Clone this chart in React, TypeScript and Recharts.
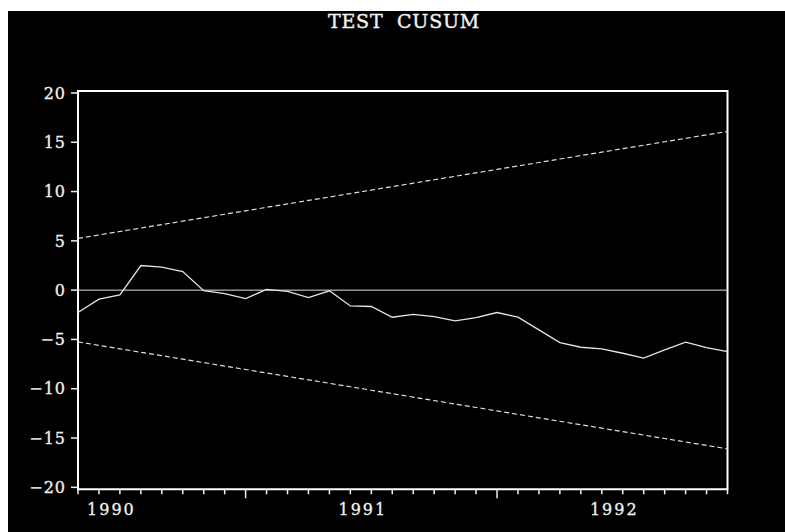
import {
  Line,
  LineChart,
  ReferenceArea,
  ReferenceLine,
  XAxis,
  YAxis,
} from "recharts"

// Monthly observations, May 1990 through December 1992
const months = [
  "1990:05", "1990:06", "1990:07", "1990:08", "1990:09", "1990:10", "1990:11", "1990:12",
  "1991:01", "1991:02", "1991:03", "1991:04", "1991:05", "1991:06", "1991:07", "1991:08",
  "1991:09", "1991:10", "1991:11", "1991:12",
  "1992:01", "1992:02", "1992:03", "1992:04", "1992:05", "1992:06", "1992:07", "1992:08",
  "1992:09", "1992:10", "1992:11", "1992:12",
]

const cusum = [
  -2.27, -0.91, -0.48, 2.5, 2.33, 1.89, -0.05, -0.35,
  -0.85, 0.08, -0.12, -0.75, -0.07, -1.6, -1.66, -2.75,
  -2.45, -2.68, -3.12, -2.78, -2.27, -2.74, -4.03, -5.32,
  -5.79, -5.96, -6.4, -6.9, -6.06, -5.28, -5.83, -6.23,
]

// 5% significance band
const upperBand = [
  5.25, 5.6, 5.95, 6.3, 6.65, 7.0, 7.35, 7.7,
  8.05, 8.4, 8.75, 9.1, 9.45, 9.8, 10.15, 10.5,
  10.85, 11.2, 11.55, 11.9, 12.25, 12.6, 12.95, 13.3,
  13.65, 14.0, 14.35, 14.7, 15.05, 15.4, 15.75, 16.1,
]
const lowerBand = [
  -5.25, -5.6, -5.95, -6.3, -6.65, -7.0, -7.35, -7.7,
  -8.05, -8.4, -8.75, -9.1, -9.45, -9.8, -10.15, -10.5,
  -10.85, -11.2, -11.55, -11.9, -12.25, -12.6, -12.95, -13.3,
  -13.65, -14.0, -14.35, -14.7, -15.05, -15.4, -15.75, -16.1,
]

const yTicks = [-20, -15, -10, -5, 0, 5, 10, 15, 20]

const data = months.map((m, i) => ({
  month: m,
  cusum: cusum[i],
  upper: upperBand[i],
  lower: lowerBand[i],
}))

const WIDTH = 777
const HEIGHT = 521
const MARGIN = { top: 80, right: 57.5, bottom: 12.7, left: 10 }
const Y_AXIS_W = 60
const PLOT_W = WIDTH - MARGIN.left - MARGIN.right - Y_AXIS_W
const STEP = PLOT_W / (months.length - 1)

const FONT = "'DejaVu Serif', serif"
const INK = "#f0f0f0"

type TickProps = {
  x?: number
  y?: number
  payload?: { value: string }
}

// one tick per month, a longer one at each January, year label centred in its year
const MonthTick = ({ x = 0, y = 0, payload }: TickProps) => {
  const [year, month] = (payload?.value ?? "").split(":")
  const isJan = month === "01"
  return (
    <g>
      <line
        x1={x}
        x2={x}
        y1={y}
        y2={y + (isJan ? 9 : 5)}
        stroke={INK}
        strokeWidth={1.5}
      />
      {month === "06" && (
        <text
          x={x + STEP / 2 + 2}
          y={y + 26}
          textAnchor="middle"
          fill={INK}
          stroke={INK}
          strokeWidth={0.3}
          fontFamily={FONT}
          fontSize={16}
          letterSpacing={2}
        >
          {year}
        </text>
      )}
    </g>
  )
}

const formatY = (v: number) => (v < 0 ? `\u2212${Math.abs(v)}` : `${v}`)

export default function App() {
  return (
    <div
      style={{
        position: "fixed",
        left: 8,
        top: 11,
        right: 0,
        bottom: 0,
        background: "#000",
      }}
    >
      <LineChart width={WIDTH} height={HEIGHT} data={data} margin={MARGIN}>
        <text
          x={396}
          y={17}
          textAnchor="middle"
          fill={INK}
          stroke={INK}
          strokeWidth={0.4}
          fontFamily={FONT}
          fontSize={19}
          letterSpacing={0.8}
          style={{ whiteSpace: "pre" }}
        >
          TEST  CUSUM
        </text>
        <XAxis
          dataKey="month"
          interval={0}
          height={30}
          axisLine={false}
          tickLine={false}
          tickSize={0}
          tickMargin={0}
          tick={<MonthTick />}
        />
        <YAxis
          width={Y_AXIS_W}
          domain={[-20.2, 20.2]}
          ticks={yTicks}
          allowDataOverflow
          axisLine={false}
          tickSize={7}
          tickMargin={5}
          tickLine={{ stroke: INK, strokeWidth: 1.5 }}
          tickFormatter={formatY}
          tick={{
            fill: INK,
            stroke: INK,
            strokeWidth: 0.3,
            fontFamily: FONT,
            fontSize: 16,
            letterSpacing: 1,
          }}
        />
        <ReferenceLine y={0} stroke="#e0e0e0" strokeWidth={1} />
        <Line
          dataKey="upper"
          stroke="#e0e0e0"
          strokeWidth={1.2}
          strokeDasharray="5 3"
          dot={false}
          activeDot={false}
          isAnimationActive={false}
        />
        <Line
          dataKey="lower"
          stroke="#e0e0e0"
          strokeWidth={1.2}
          strokeDasharray="5 3"
          dot={false}
          activeDot={false}
          isAnimationActive={false}
        />
        <Line
          type="linear"
          dataKey="cusum"
          stroke="#e4e4e4"
          strokeWidth={1.3}
          dot={false}
          activeDot={false}
          isAnimationActive={false}
        />
        <ReferenceArea
          x1={months[0]}
          x2={months[months.length - 1]}
          y1={-20.2}
          y2={20.2}
          fill="none"
          fillOpacity={0}
          stroke="#ffffff"
          strokeWidth={2}
        />
      </LineChart>
    </div>
  )
}
